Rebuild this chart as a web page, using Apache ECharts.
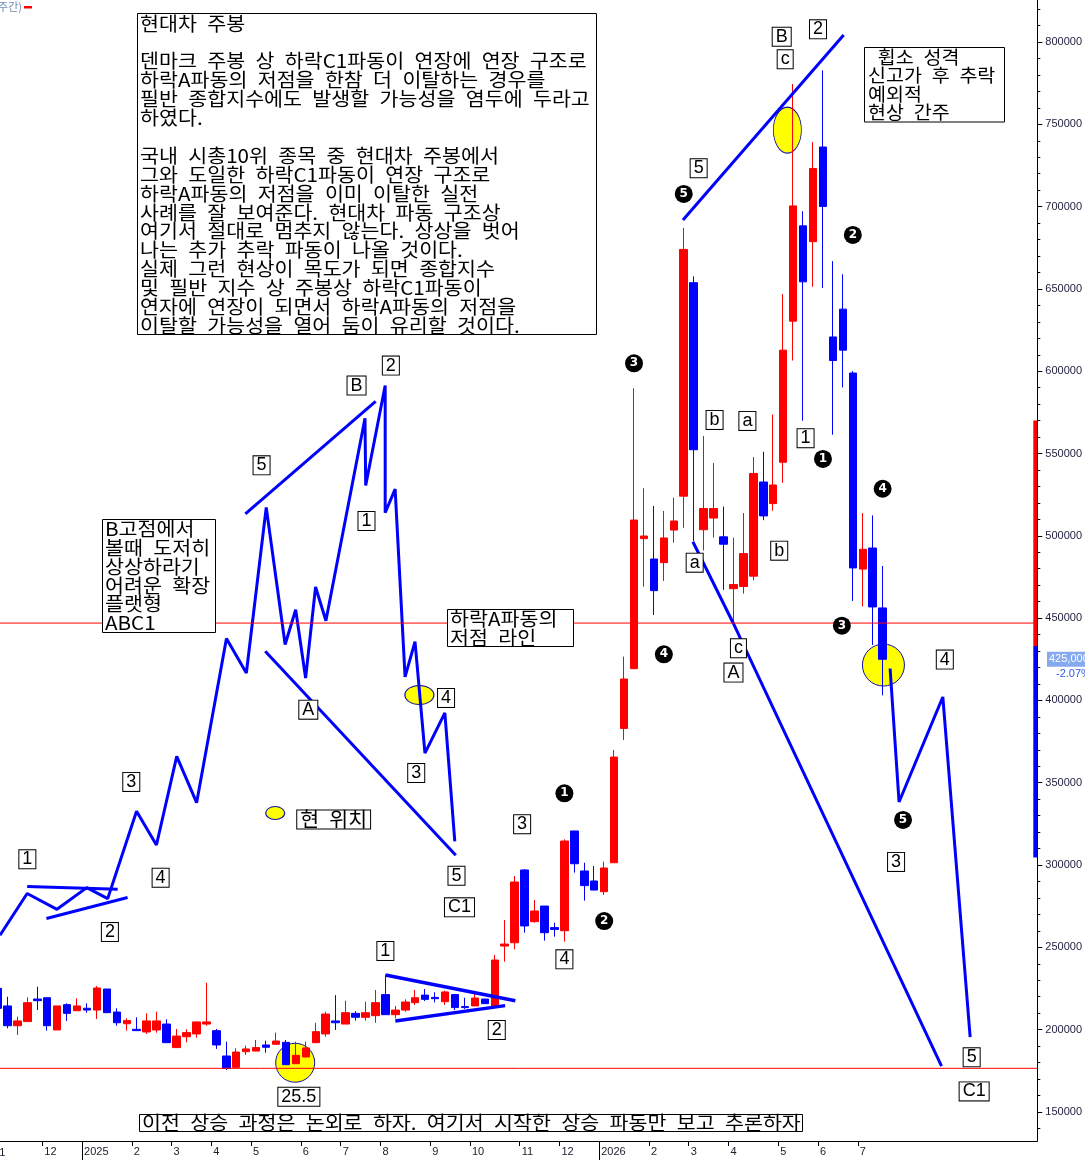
<!DOCTYPE html>
<html><head><meta charset="utf-8">
<script src="https://cdn.jsdelivr.net/npm/echarts@6/dist/echarts.min.js"></script>
<style>html,body{margin:0;padding:0;background:#fff}#c{width:1085px;height:1161px}</style>
</head><body><div id="c"></div>
<script>
// ---------- DATA (week index i = 0 is the first, partly hidden weekly candle) ----------
// weekly candles: [open, close, low, high]
const candles = [
[225100,212950,210500,226500],[214400,202400,200800,220000],[202400,205300,196800,207900],[204900,216400,204900,219600],
[218600,217600,211900,226100],[219400,202400,199400,219400],[199800,214400,199800,214400],[215200,209900,205300,216000],
[211500,214400,211500,219000],[213000,211900,210300,216000],[211900,225300,206500,226500],[224700,210300,210300,224700],
[210700,204200,202400,213000],[203600,205500,199400,206900],[200200,199400,199400,207500],[198600,205300,197400,209900],
[199800,205300,198200,210900],[203400,192100,192100,206300],[189100,196100,189100,200400],[195700,198200,192300,200200],
[197400,204700,195100,204700],[203400,204700,202400,228500],[199400,190700,188300,200400],[184000,176500,175500,192700],
[177100,186400,177100,188700],[186600,188300,184600,190300],[187000,189100,187000,193700],[190700,189300,186000,193300],
[191100,193100,191100,198200],[192300,178700,178700,193700],[179300,184400,179300,192700],[183400,188900,183400,192700],
[192100,198800,192100,204200],[197400,209500,195700,210900],[205300,204200,199800,221000],[203400,210300,203400,217600],
[209900,207500,205500,211300],[207500,210300,205500,217000],[208500,216400,204200,224100],[221300,209100,209100,233200],
[209100,211900,206900,214400],[211900,216800,210900,218400],[216400,219400,215000,224100],[221000,218400,217400,224700],
[219600,218800,216600,222700],[217000,222900,215000,223700],[221300,213400,211900,221300],[214000,213400,212600,219400],
[214400,219200,214400,222100],[218600,215800,215800,218600],[214000,242300,214000,245400],[250800,252000,241300,266600],
[252800,289700,248800,293300],[297000,263000,258900,297600],[265600,272100,265000,278800],[275100,258900,254100,275100],
[262000,260900,256500,265000],[260100,314600,253500,315600],[320700,300800,295400,320700],[296400,287500,278400,301400],
[290300,284800,284800,299400],[283800,298200,281800,302000],[301400,365600,301400,369900],[383000,413000,376000,426600],
[419300,509600,419300,589600],[498300,499900,469100,528900],[485900,466700,451900,518100],[483700,498700,472600,515100],
[503500,509000,495800,523200],[524100,674000,504900,687100],[653800,552300,496900,657600],[503700,516600,491100,560600],
[510800,516600,498900,544200],[499400,494900,467200,517800],[467900,470400,446600,498900],[469200,489200,464900,513800],
[475500,537900,473000,547800],[532700,512100,509500,551100],[519600,530900,515300,573700],[544700,612800,532200,646800],
[630400,700400,606500,774500],[688300,654300,569900,697200],[678700,723100,651300,739200],[736200,700100,650600,782800],
[620800,606500,561400,666900],[637700,612800,590100,658900],[598900,480500,460400,600100],[479800,491800,457100,513800],
[492600,456800,433700,512400],[456200,425000,403100,481700]
];
const lastClose = 425000;
const lastChangeText = '-2.07%';

// x-axis month ticks (week index of the month boundary) and labels
const monthTickWeek  = [4.5, 8.5, 13.5, 17.5, 21.5, 25.5, 30.5, 34.5, 38.5, 43.5, 47.5, 52.5, 56.5, 60.5, 65.5, 69.5, 73.5, 78.5, 82.5, 86.5];
const monthTickLabel = ['12','2025','2','3','4','5','6','7','8','9','10','11','12','2026','2','3','4','5','6','7'];
const yearTickWeek = [8.5, 60.5];
// y-axis ticks
const yMajorTicks = [150000,200000,250000,300000,350000,400000,450000,500000,550000,600000,650000,700000,750000,800000];
const yMinorTicks = [140000,160000,170000,180000,190000,210000,220000,230000,240000,260000,270000,280000,290000,310000,320000,330000,340000,360000,370000,380000,390000,410000,420000,430000,440000,460000,470000,480000,490000,510000,520000,530000,540000,560000,570000,580000,590000,610000,620000,630000,640000,660000,670000,680000,690000,710000,720000,730000,740000,760000,770000,780000,790000,810000,820000];

// horizontal red levels
const levels = [447000, 176500];

// blue wave drawings [week index, price]
const projMain = [[0.25,257400],[2.98,282700],[5.98,273100],[8.98,286300],[11.08,279600],[13.98,332700],[15.98,312200],[18.02,366000],[20.02,337900],[23.02,437600],[25.02,416700],[27.02,517300],[28.92,434000],[29.98,455100],[30.98,413600],[31.98,468900],[33.02,448400],[36.95,571400],[37.02,530600],[38.98,591300],[38.98,514000],[39.98,528400],[40.98,414300],[41.98,435700],[42.98,368000],[44.98,392400],[45.98,314400]];
const flagTop    = [[2.98,287000],[12.08,285300]];
const flagBottom = [[4.92,267500],[13.08,280300]];
const trendB     = [[24.92,513300],[38.02,581700]];
const trendA     = [[26.92,429900],[46.08,306000]];
const triTop     = [[39.0,233200],[52.07,217600]];
const triBottom  = [[40.0,205300],[51.04,214600]];
const trend52    = [[68.92,691900],[85.08,804300]];
const lineToC1   = [[69.92,496400],[73.98,446900],[94.92,177900]];
const projRight  = [[89.75,419400],[90.65,338300],[95.05,402100],[97.8,195400]];

// boxed wave labels [text, week index, price]
const waveLabels = [
['1',3.0,303500],['2',11.3,259300],['3',13.45,350500],['4',16.4,292300],['5',26.55,542800],['A',31.25,394400],
['B',36.1,591300],['2',39.55,603400],['1',37.1,509000],['4',45.1,401500],['3',42.1,355900],['5',46.15,293500],
['C1',46.45,274300],['1',39.0,247800],['2',50.2,199800],['25.5',30.3,159300],['3',52.75,324800],['4',57.0,242700],
['b',72.1,570400],['a',75.4,569800],['1',81.25,559300],['a',70.1,483700],['b',78.6,491000],['c',74.5,431700],
['A',74.0,416900],['B',78.85,803200],['c',79.2,789500],['2',82.5,807700],['5',70.5,723300],['4',95.25,424800],
['3',90.35,301900],['5',97.95,183200],['C1',98.2,162500],['현 위치',33.8,327700]
];
// black circled wave numbers [digit, week index, price]
const circledNums = [
['5',69.0,707700],['2',86.0,682800],['3',64.0,604800],['1',83.0,546700],['3',84.9,445400],
['4',67.0,428000],['4',89.0,528600],['5',91.05,327400],['1',57.0,343600],['2',61.0,266000]
];
// yellow highlight marks [week index, price]
const highlights = [[27.92,331600],[42.42,403300],[29.93,179900],[79.42,746500],[89.08,421500]];
// price range strip at the right edge [from, to]
const rangeStrip = [[570000,433000],[433000,304600]];

// ---------- STYLE / LAYOUT ----------
const highlightSizes = [[19,13],[29,19],[39,39],[28,46],[42,42]];
const X_MIN = 0.25, X_MAX = 104.55, Y_MIN = 132358, Y_MAX = 825515;
const KR = '"Noto Sans CJK KR"';
const sp = s => s.replace(/ /g, '\u2002');
const KSCALE = 1.085;

const chart = echarts.init(document.getElementById('c'), null, {renderer:'canvas'});

function blueLine(d, w){
  return {type:'line', data:d, symbol:'none', silent:true, z:4, animation:false,
    lineStyle:{color:'#0000ff', width:w||3}, clip:true};
}

const option = {
  animation:false,
  backgroundColor:'#ffffff',
  grid:{left:0, right:42, top:0, bottom:20, containLabel:false},
  xAxis:[{
    type:'value', min:X_MIN, max:X_MAX,
    axisLine:{show:true, onZero:false, lineStyle:{color:'#000', width:1}},
    axisTick:{show:true, customValues:monthTickWeek, length:5, lineStyle:{color:'#000'}},
    axisLabel:{show:true, customValues:monthTickWeek, align:'left', margin:5, padding:[0,0,0,2],
      fontSize:11, fontFamily:'"Liberation Sans"', color:'#1a1a2a',
      formatter:v=>{const k=monthTickWeek.findIndex(t=>Math.abs(t-v)<1e-6); return k>=0?monthTickLabel[k]:'';}},
    splitLine:{show:false}
  },{
    type:'value', min:X_MIN, max:X_MAX, position:'bottom',
    axisLine:{show:false}, axisLabel:{show:false}, splitLine:{show:false},
    axisTick:{show:true, customValues:yearTickWeek, length:19, lineStyle:{color:'#000'}}
  }],
  yAxis:[{
    type:'value', position:'right', min:Y_MIN, max:Y_MAX,
    axisLine:{show:true, onZero:false, lineStyle:{color:'#000', width:1}},
    axisTick:{show:true, customValues:yMajorTicks, length:5, lineStyle:{color:'#000'}},
    axisLabel:{show:true, customValues:yMajorTicks, margin:8, fontSize:11, fontFamily:'"Liberation Sans"', color:'#1c1c3c',
      formatter:v=>String(v)},
    splitLine:{show:false}
  },{
    type:'value', position:'right', min:Y_MIN, max:Y_MAX,
    axisLine:{show:false}, axisLabel:{show:false}, splitLine:{show:false},
    axisTick:{show:true, customValues:yMinorTicks, length:3, lineStyle:{color:'#000'}}
  }],
  series:[
    {type:'scatter', z:1, silent:true, symbol:'circle',
      data: highlights.map((p,j)=>({value:p, symbolSize:highlightSizes[j]})),
      itemStyle:{color:'#ffff00', borderColor:'#1010a0', borderWidth:1, opacity:1}},
    {type:'candlestick', z:2, silent:true, barWidth:8,
      data: candles.map((c,i)=>[i, c[0], c[1], c[2], c[3]]),
      encode:{x:0, y:[1,2,3,4]},
      itemStyle:{color:'#ff0000', color0:'#0000ff', borderColor:'#ff0000', borderColor0:'#0000ff', borderWidth:1}},
    blueLine(projMain), blueLine(flagTop), blueLine(flagBottom), blueLine(trendB), blueLine(trendA),
    blueLine(triTop, 3.5), blueLine(triBottom, 3.5), blueLine(trend52), blueLine(lineToC1), blueLine(projRight),
    ...levels.map(v=>({type:'line', z:5, silent:true, symbol:'none', data:[[X_MIN,v],[X_MAX,v]],
      lineStyle:{color:'#ff0000', width:1}})),
    {type:'custom', z:5, silent:true, data: rangeStrip.map((r,j)=>[X_MAX, r[0], r[1], j]),
      encode:{x:0, y:[1,2]},
      renderItem:(params, api)=>{
        const a = api.coord([api.value(0), api.value(1)]);
        const b = api.coord([api.value(0), api.value(2)]);
        return {type:'rect', shape:{x:a[0]-4, y:a[1], width:4, height:b[1]-a[1]},
          style:{fill: api.value(3)===0 ? '#ff0000' : '#0000ff'}};
      }},
    {type:'scatter', z:8, silent:true, symbol:'circle', symbolSize:18,
      data: circledNums.map(c=>({name:c[0], value:[c[1], c[2]]})),
      itemStyle:{color:'#000000', opacity:1},
      label:{show:true, position:'inside', formatter:p=>p.name, color:'#fff', fontSize:12, fontWeight:'bold', fontFamily:'"DejaVu Sans"'}},
    {type:'scatter', z:9, silent:true, symbol:'rect', symbolSize:1, itemStyle:{color:'rgba(0,0,0,0)', opacity:1},
      data: waveLabels.map(w=>({name:w[0], value:[w[1], w[2]],
        label: /[가-힣]/.test(w[0]) ? {fontFamily:KR, fontSize:20.5} : {}})),
      label:{show:true, position:'inside', formatter:p=>sp(p.name), color:'#000', fontSize:18, fontFamily:'"Liberation Sans"',
        backgroundColor:'#fff', borderColor:'#000', borderWidth:1, padding:[1,3,0,3], lineHeight:17}}
  ]
};
chart.setOption(option);

// ---------- text boxes ----------
function rect(x,y,w,h){return {type:'rect', z:100, silent:true, shape:{x:x+0.5,y:y+0.5,width:w,height:h}, style:{fill:'#fff', stroke:'#000', lineWidth:1}};}
function text(lines,x,y,size,lh,va){return {type:'text', z:101, silent:true, x:x, y:y, scaleX:KSCALE,
  style:{text:lines.map(sp).join('\n'), x:0, y:0,
  font: size+'px '+KR, fill:'#000', lineHeight:lh, align:'left', verticalAlign:va||'top'}};}

const noteMain = [
 '현대차 주봉','',
 '덴마크 주봉 상 하락C1파동이 연장에 연장 구조로',
 '하락A파동의 저점을 한참 더 이탈하는 경우를',
 '필반 종합지수에도 발생할 가능성을 염두에 두라고',
 '하였다.','',
 '국내 시총10위 종목 중 현대차 주봉에서',
 '그와 도일한 하락C1파동이 연장 구조로',
 '하락A파동의 저점을 이미 이탈한 실전',
 '사례를 잘 보여준다. 현대차 파동 구조상',
 '여기서 절대로 멈추지 않는다. 상상을 벗어',
 '나는 추가 추락 파동이 나올 것이다.',
 '실제 그런 현상이 목도가 되면 종합지수',
 '및 필반 지수 상 주봉상 하락C1파동이',
 '연자에 연장이 되면서 하락A파동의 저점을',
 '이탈할 가능성을 열어 둠이 유리할 것이다.'];
const noteWhipsaw = [' 휩소 성격','신고가 후 추락','예외적','현상 간주'];
const noteFlat = ['B고점에서','볼때 도저히','상상하라기','어려운 확장','플랫형','ABC1'];
const noteLine = ['하락A파동의','저점 라인'];
const noteBottom = ['이전 상승 과정은 논외로 하자. 여기서 시작한 상승 파동만 보고 추론하자'];

const py = chart.convertToPixel({yAxisIndex:0}, lastClose);
chart.setOption({graphic:[
  rect(137,13,459,321), text(noteMain,140,13.9,19,18.9),
  rect(864,47,140,74.5), text(noteWhipsaw,868,47.8,18,18.4),
  rect(102,519,113,113), text(noteFlat,105,519.6,19,18.8),
  rect(447,609,126,37), text(noteLine,450,609,19,19),
  rect(139,1114,663,17), text(noteBottom,142,1123,19,19,'middle'),
  {type:'text', z:50, silent:true, style:{text:'11', x:-6, y:1147, font:'11px "Liberation Sans"', fill:'#1a1a2a', verticalAlign:'top'}},
  {type:'text', z:50, silent:true, style:{text:'현대차(주간)', x:22, y:7, font:'11px '+KR, fill:'#6b8fb3', align:'right', verticalAlign:'middle'}},
  {type:'rect', z:50, silent:true, shape:{x:24, y:6, width:8, height:2.5}, style:{fill:'#ff0000'}},
  {type:'rect', z:50, silent:true, shape:{x:1047, y:py-7.5, width:40, height:15}, style:{fill:'#86aaf0'}},
  {type:'text', z:51, silent:true, style:{text:'425,000', x:1049, y:py, font:'11px "Liberation Sans"', fill:'#ffffff', verticalAlign:'middle'}},
  {type:'text', z:51, silent:true, style:{text:lastChangeText, x:1056, y:py+15, font:'11px "Liberation Sans"', fill:'#2a5ce8', verticalAlign:'middle'}}
]});
</script></body></html>
